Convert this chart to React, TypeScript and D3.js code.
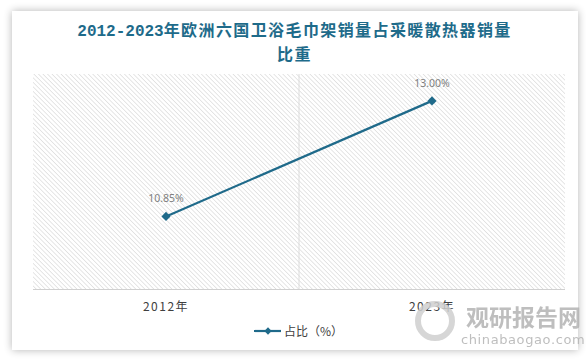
import React from "react";
import * as d3 from "d3";

const categories = ["2012年", "2023年"];
const values = [10.85, 13.0];
const valueLabels = ["10.85%", "13.00%"];
const seriesName = "占比（%）";
const titleLine1Digits = "2012-2023";
const titleLine1Rest = "年欧洲六国卫浴毛巾架销量占采暖散热器销量";
const titleLine2 = "比重";

const W = 586, H = 361;
const plot = { left: 33, right: 565, top: 74, bottom: 289 };
const LINE = "#1f6a8a";
const TITLE = "#1e6b8a";

export default function App() {
  const x = d3.scaleBand<string>().domain(categories).range([plot.left, plot.right]);
  const y = d3.scaleLinear().domain([9.5, 13.5]).range([plot.bottom, plot.top]);
  const pts = categories.map((c, i) => [x(c)! + x.bandwidth() / 2, y(values[i])] as [number, number]);
  const line = d3.line()(pts) || "";
  const diamond = d3.symbol().type(d3.symbolSquare).size(42)() || "";
  const cjk = "'Noto Sans CJK SC', sans-serif";
  return (
    <svg width={W} height={H} style={{ position: "absolute", left: 0, top: 0 }}>
      <defs>
        <pattern id="hatch" patternUnits="userSpaceOnUse" width="3.2" height="3.2" patternTransform="rotate(-45)">
          <rect width="3.2" height="3.2" fill="#ffffff" />
          <line x1="0" y1="0" x2="0" y2="3.2" stroke="#d2d2d2" strokeWidth="1.1" />
        </pattern>
        <filter id="sh" x="-5%" y="-5%" width="110%" height="110%">
          <feGaussianBlur in="SourceAlpha" stdDeviation="4" />
          <feComponentTransfer><feFuncA type="linear" slope="0.3" /></feComponentTransfer>
          <feMerge><feMergeNode /><feMergeNode in="SourceGraphic" /></feMerge>
        </filter>
      </defs>
      <rect x={0} y={0} width={W} height={H} fill="#ffffff" />
      <rect x={12} y={11} width={566} height={339} fill="#ffffff" filter="url(#sh)" />
      <text x={294.5} y={36} textAnchor="middle" fontSize={16} fontWeight="bold" fill={TITLE} fontFamily={cjk}>
        <tspan fontFamily="'Liberation Mono', monospace">{titleLine1Digits}</tspan>
        <tspan letterSpacing={1.4}>{titleLine1Rest}</tspan>
      </text>
      <text x={294.5} y={60} textAnchor="middle" fontSize={16} fontWeight="bold" fill={TITLE} fontFamily={cjk} letterSpacing={1.4}>{titleLine2}</text>
      <rect x={plot.left} y={plot.top} width={plot.right - plot.left} height={plot.bottom - plot.top} fill="url(#hatch)" />
      {categories.slice(1).map((c) => (
        <line key={c} x1={x(c)} x2={x(c)} y1={plot.top} y2={plot.bottom} stroke="#dcdcdc" strokeWidth={1} />
      ))}
      <line x1={plot.left} x2={plot.right} y1={plot.bottom + 0.5} y2={plot.bottom + 0.5} stroke="#d0d0d0" strokeWidth={1} />
      {categories.map((c) => (
        <text key={c} x={x(c)! + x.bandwidth() / 2} y={311} textAnchor="middle" fontSize={12}
          fill="#404040" letterSpacing={1.5} fontFamily={cjk}>{c}</text>
      ))}
      <path d={line} fill="none" stroke={LINE} strokeWidth={2.2} />
      {pts.map((p, i) => (
        <g key={i}>
          <path d={diamond} transform={`translate(${p[0]},${p[1]}) rotate(45)`} fill={LINE} />
          <text x={p[0]} y={p[1] - 14} textAnchor="middle" fontSize={10.5} fill="#7f7f7f"
            fontFamily="'Noto Sans', sans-serif">{valueLabels[i]}</text>
        </g>
      ))}
      <g>
        <line x1={254} x2={281} y1={331} y2={331} stroke={LINE} strokeWidth={2.2} />
        <path d={diamond} transform="translate(268,331) rotate(45) scale(0.8)" fill={LINE} />
        <text x={284} y={335.5} fontSize={12} fill="#404040" fontFamily={cjk}>{seriesName}</text>
      </g>
      <g opacity={0.85}>
        <circle cx={435} cy={321} r={17} fill="none" stroke="#cfcfcf" strokeWidth={6} />
        <text x={466} y={326} fontSize={23} fontWeight="bold" fill="#b3b3b3" fontFamily={cjk}>观研报告网</text>
        <text x={461} y={344} fontSize={13} fill="#b3b3b3" letterSpacing={0.6} fontFamily="'DejaVu Sans', sans-serif">chinabaogao.com</text>
      </g>
    </svg>
  );
}
